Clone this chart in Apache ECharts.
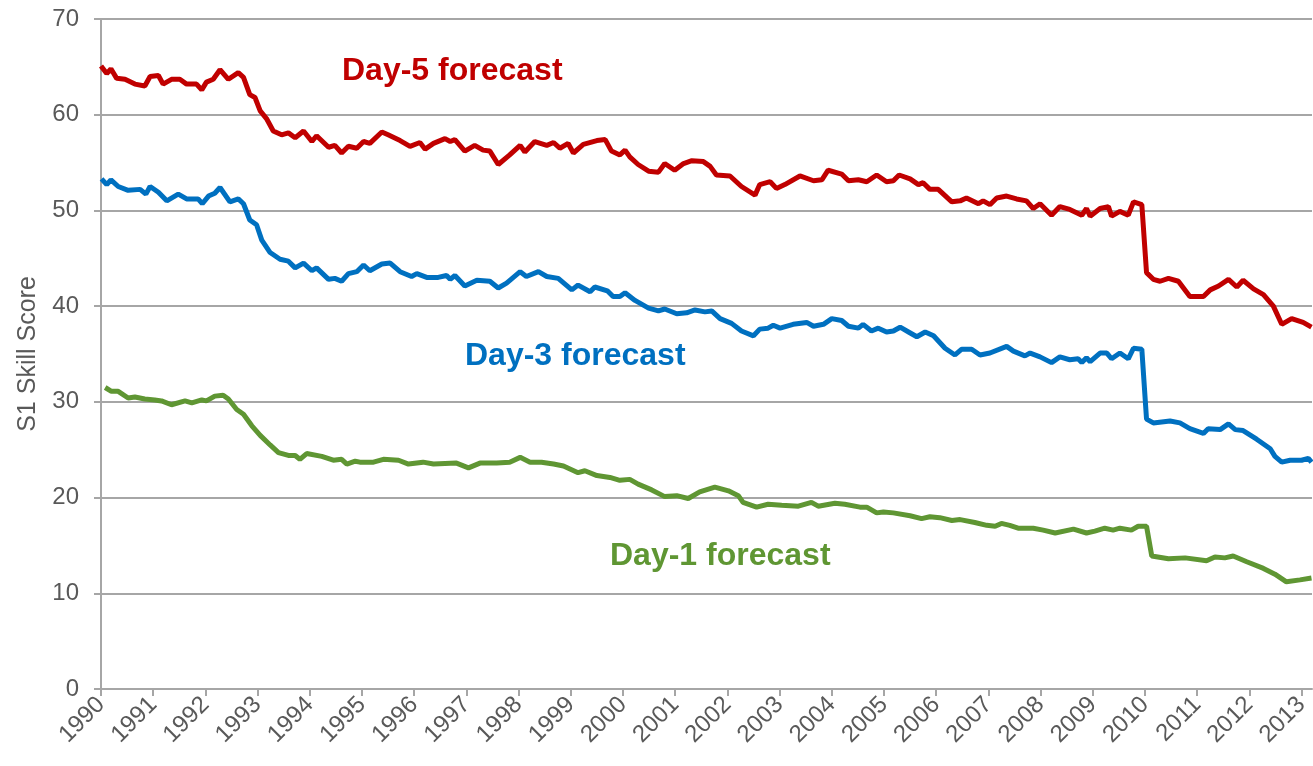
<!DOCTYPE html>
<html>
<head>
<meta charset="utf-8">
<script src="https://cdn.jsdelivr.net/npm/echarts@6/dist/echarts.min.js"></script>
<style>
html, body { margin: 0; padding: 0; background: #fff; }
#chart { width: 1313px; height: 766px; }
</style>
</head>
<body>
<div id="chart"></div>
<script>
// S1 skill score as [year, score]
var day5 = [
  [1990.00,65.1],[1990.11,64.3],[1990.19,64.8],[1990.30,63.8],[1990.46,63.7],[1990.65,63.2],[1990.84,63.0],[1990.94,64.0],
  [1991.10,64.1],[1991.19,63.2],[1991.35,63.7],[1991.51,63.7],[1991.64,63.2],[1991.83,63.2],[1991.93,62.6],[1992.02,63.4],
  [1992.15,63.7],[1992.28,64.7],[1992.44,63.7],[1992.63,64.4],[1992.73,63.9],[1992.85,62.1],[1992.95,61.8],[1993.05,60.4],
  [1993.17,59.6],[1993.30,58.3],[1993.46,57.9],[1993.59,58.1],[1993.72,57.6],[1993.88,58.3],[1994.04,57.2],[1994.13,57.8],
  [1994.36,56.6],[1994.48,56.8],[1994.61,56.0],[1994.74,56.7],[1994.90,56.5],[1995.03,57.2],[1995.15,57.0],[1995.38,58.2],
  [1995.50,57.9],[1995.73,57.3],[1995.92,56.7],[1996.11,57.1],[1996.21,56.4],[1996.37,57.0],[1996.59,57.5],[1996.69,57.2],
  [1996.78,57.4],[1996.97,56.2],[1997.16,56.8],[1997.32,56.3],[1997.45,56.2],[1997.61,54.8],[1997.83,55.8],[1998.03,56.8],
  [1998.12,56.1],[1998.31,57.2],[1998.54,56.8],[1998.67,57.1],[1998.79,56.5],[1998.95,57.0],[1999.05,56.0],[1999.24,56.9],
  [1999.50,57.3],[1999.66,57.4],[1999.78,56.2],[1999.94,55.8],[2000.04,56.3],[2000.13,55.6],[2000.29,54.8],[2000.49,54.1],
  [2000.68,54.0],[2000.80,54.9],[2000.99,54.2],[2001.16,54.9],[2001.32,55.2],[2001.54,55.1],[2001.67,54.6],[2001.79,53.7],
  [2002.05,53.6],[2002.27,52.5],[2002.53,51.6],[2002.62,52.7],[2002.82,53.0],[2002.94,52.3],[2003.10,52.7],[2003.39,53.6],
  [2003.65,53.1],[2003.81,53.2],[2003.93,54.2],[2004.19,53.8],[2004.32,53.1],[2004.51,53.2],[2004.67,53.0],[2004.86,53.7],
  [2005.05,53.0],[2005.18,53.1],[2005.29,53.7],[2005.50,53.3],[2005.66,52.7],[2005.75,52.9],[2005.88,52.2],[2006.04,52.2],
  [2006.30,50.9],[2006.46,51.0],[2006.58,51.3],[2006.81,50.7],[2006.90,51.0],[2007.03,50.6],[2007.16,51.3],[2007.35,51.5],
  [2007.54,51.2],[2007.73,51.0],[2007.86,50.2],[2007.99,50.7],[2008.21,49.5],[2008.37,50.4],[2008.56,50.1],[2008.79,49.5],
  [2008.88,50.2],[2008.95,49.4],[2009.14,50.2],[2009.30,50.4],[2009.36,49.4],[2009.52,49.9],[2009.68,49.5],[2009.78,50.9],
  [2009.94,50.6],[2010.03,43.5],[2010.16,42.8],[2010.29,42.6],[2010.45,42.9],[2010.64,42.6],[2010.86,41.0],[2011.12,41.0],
  [2011.25,41.7],[2011.41,42.1],[2011.60,42.8],[2011.76,42.0],[2011.88,42.7],[2012.08,41.8],[2012.27,41.2],[2012.46,40.0],
  [2012.62,38.1],[2012.81,38.7],[2013.03,38.3],[2013.19,37.8]
];
var day3 = [
  [1990.01,53.3],[1990.11,52.7],[1990.19,53.2],[1990.33,52.5],[1990.52,52.1],[1990.75,52.2],[1990.86,51.7],[1990.94,52.5],
  [1991.10,51.9],[1991.26,51.0],[1991.48,51.7],[1991.64,51.2],[1991.86,51.2],[1991.94,50.7],[1992.06,51.5],[1992.18,51.8],
  [1992.28,52.4],[1992.47,50.9],[1992.63,51.2],[1992.73,50.7],[1992.85,49.0],[1992.98,48.5],[1993.08,46.9],[1993.24,45.6],
  [1993.43,44.9],[1993.59,44.7],[1993.72,44.0],[1993.88,44.5],[1994.04,43.7],[1994.13,44.0],[1994.36,42.8],[1994.48,42.9],
  [1994.61,42.6],[1994.74,43.4],[1994.90,43.6],[1995.03,44.3],[1995.15,43.7],[1995.38,44.4],[1995.54,44.5],[1995.73,43.6],
  [1995.95,43.1],[1996.05,43.4],[1996.24,43.0],[1996.46,43.0],[1996.62,43.2],[1996.69,42.8],[1996.78,43.2],[1996.97,42.1],
  [1997.20,42.7],[1997.45,42.6],[1997.61,41.9],[1997.77,42.4],[1998.03,43.6],[1998.15,43.1],[1998.38,43.6],[1998.54,43.1],
  [1998.76,42.9],[1999.02,41.7],[1999.14,42.2],[1999.37,41.5],[1999.46,42.0],[1999.70,41.6],[1999.81,41.0],[1999.94,41.0],
  [2000.04,41.4],[2000.23,40.6],[2000.49,39.8],[2000.68,39.5],[2000.80,39.7],[2001.03,39.2],[2001.22,39.3],[2001.38,39.6],
  [2001.57,39.4],[2001.70,39.5],[2001.86,38.7],[2002.08,38.2],[2002.27,37.4],[2002.50,36.9],[2002.62,37.6],[2002.78,37.7],
  [2002.88,38.0],[2003.01,37.7],[2003.26,38.1],[2003.52,38.3],[2003.65,37.9],[2003.84,38.1],[2004.00,38.7],[2004.19,38.5],
  [2004.32,37.9],[2004.51,37.7],[2004.60,38.1],[2004.76,37.4],[2004.89,37.7],[2005.05,37.3],[2005.18,37.4],[2005.31,37.8],
  [2005.47,37.3],[2005.63,36.8],[2005.79,37.3],[2005.95,36.9],[2006.17,35.6],[2006.36,34.9],[2006.49,35.5],[2006.68,35.5],
  [2006.84,34.9],[2007.03,35.1],[2007.35,35.8],[2007.48,35.3],[2007.70,34.8],[2007.80,35.1],[2007.99,34.7],[2008.21,34.1],
  [2008.37,34.7],[2008.56,34.4],[2008.72,34.5],[2008.79,34.1],[2008.88,34.6],[2008.95,34.2],[2009.14,35.1],[2009.27,35.1],
  [2009.36,34.5],[2009.52,35.1],[2009.68,34.5],[2009.78,35.6],[2009.94,35.5],[2010.03,28.2],[2010.16,27.8],[2010.48,28.0],
  [2010.67,27.8],[2010.86,27.2],[2011.12,26.7],[2011.21,27.2],[2011.44,27.1],[2011.60,27.7],[2011.73,27.1],[2011.88,27.0],
  [2012.14,26.1],[2012.40,25.1],[2012.49,24.3],[2012.62,23.7],[2012.78,23.9],[2013.00,23.9],[2013.13,24.1],[2013.19,23.7]
];
var day1 = [
  [1990.08,31.5],[1990.20,31.1],[1990.33,31.1],[1990.52,30.4],[1990.65,30.5],[1990.84,30.3],[1991.03,30.2],[1991.16,30.1],
  [1991.35,29.7],[1991.61,30.1],[1991.74,29.9],[1991.93,30.2],[1992.02,30.1],[1992.18,30.6],[1992.34,30.7],[1992.44,30.3],
  [1992.60,29.2],[1992.73,28.7],[1992.89,27.5],[1993.05,26.5],[1993.24,25.5],[1993.40,24.7],[1993.59,24.4],[1993.72,24.4],
  [1993.81,24.0],[1993.94,24.6],[1994.23,24.3],[1994.45,23.9],[1994.61,24.0],[1994.71,23.5],[1994.87,23.8],[1994.96,23.7],
  [1995.22,23.7],[1995.41,24.0],[1995.70,23.9],[1995.89,23.5],[1996.17,23.7],[1996.37,23.5],[1996.81,23.6],[1997.04,23.1],
  [1997.26,23.6],[1997.58,23.6],[1997.83,23.7],[1998.03,24.2],[1998.22,23.7],[1998.44,23.7],[1998.67,23.5],[1998.86,23.3],
  [1999.14,22.6],[1999.27,22.8],[1999.50,22.3],[1999.75,22.1],[1999.94,21.8],[2000.13,21.9],[2000.29,21.4],[2000.55,20.8],
  [2000.80,20.1],[2001.03,20.2],[2001.25,19.9],[2001.47,20.6],[2001.76,21.1],[2002.02,20.7],[2002.21,20.2],[2002.30,19.5],
  [2002.56,19.0],[2002.78,19.3],[2003.04,19.2],[2003.36,19.1],[2003.61,19.5],[2003.74,19.1],[2004.06,19.4],[2004.25,19.3],
  [2004.54,19.0],[2004.67,19.0],[2004.86,18.4],[2004.99,18.5],[2005.18,18.4],[2005.50,18.1],[2005.72,17.8],[2005.88,18.0],
  [2006.07,17.9],[2006.30,17.6],[2006.46,17.7],[2006.74,17.4],[2006.97,17.1],[2007.13,17.0],[2007.25,17.3],[2007.41,17.1],
  [2007.57,16.8],[2007.86,16.8],[2008.05,16.6],[2008.28,16.3],[2008.63,16.7],[2008.88,16.3],[2009.04,16.5],[2009.23,16.8],
  [2009.39,16.6],[2009.52,16.8],[2009.74,16.6],[2009.87,17.0],[2010.03,17.0],[2010.13,13.9],[2010.45,13.6],[2010.77,13.7],
  [2011.18,13.4],[2011.34,13.8],[2011.53,13.7],[2011.69,13.9],[2011.95,13.3],[2012.27,12.6],[2012.49,12.0],[2012.71,11.2],
  [2012.97,11.4],[2013.19,11.6]
];
var seriesNames = ['Day-5 forecast', 'Day-3 forecast', 'Day-1 forecast'];
var seriesColors = ['#c00000', '#0070c0', '#5f9633'];
var yTicks = [0, 10, 20, 30, 40, 50, 60, 70];

var myChart = echarts.init(document.getElementById('chart'));

var font = '"Liberation Sans", Arial, sans-serif';

var option = {
    animation: false,
    backgroundColor: '#ffffff',
    grid: {
        left: 101,
        right: 1,
        top: 19,
        bottom: 77
    },
    xAxis: {
        type: 'value',
        min: 1990,
        max: 2013.2,
        interval: 1,
        axisLine: { show: true, lineStyle: { color: '#a6a6a6', width: 2 } },
        axisTick: { show: true, length: 7, lineStyle: { color: '#a6a6a6', width: 2 } },
        splitLine: { show: false },
        axisLabel: {
            rotate: 45,
            margin: 12,
            color: '#595959',
            fontSize: 24,
            fontFamily: font,
            showMaxLabel: false,
            formatter: function (v) {
                return Math.abs(v - Math.round(v)) < 1e-6 ? String(Math.round(v)) : '';
            }
        }
    },
    yAxis: {
        type: 'value',
        min: yTicks[0],
        max: yTicks[yTicks.length - 1],
        interval: 10,
        name: 'S1 Skill Score',
        nameLocation: 'middle',
        nameGap: 60,
        nameTextStyle: { color: '#595959', fontSize: 25, fontFamily: font },
        axisLine: { show: true, lineStyle: { color: '#a6a6a6', width: 2 } },
        axisTick: { show: true, length: 7, lineStyle: { color: '#a6a6a6', width: 2 } },
        splitLine: { show: true, lineStyle: { color: '#a6a6a6', width: 2 } },
        axisLabel: {
            margin: 22,
            color: '#595959',
            fontSize: 24,
            fontFamily: font
        }
    },
    series: [day5, day3, day1].map(function (d, i) {
        return {
            name: seriesNames[i],
            type: 'line',
            data: d,
            showSymbol: false,
            lineStyle: { color: seriesColors[i], width: 5 },
            itemStyle: { color: seriesColors[i] }
        };
    }),
    graphic: [
        { type: 'text', left: 342, top: 55, style: { text: seriesNames[0], fill: seriesColors[0], font: 'bold 32px ' + font } },
        { type: 'text', left: 465, top: 340, style: { text: seriesNames[1], fill: seriesColors[1], font: 'bold 32px ' + font } },
        { type: 'text', left: 610, top: 540, style: { text: seriesNames[2], fill: seriesColors[2], font: 'bold 32px ' + font } }
    ]
};

myChart.setOption(option);
</script>
</body>
</html>
